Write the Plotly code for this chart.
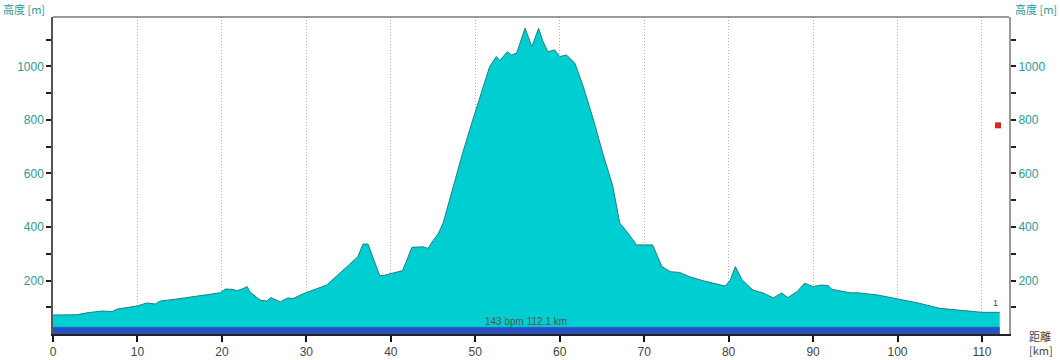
import plotly.graph_objects as go

# distance [km] and altitude [m]
km = [0, 2.8, 4.2, 5.9, 7.0, 7.6, 10.0, 11.1, 12.1, 12.7, 14.7, 16.6, 19.8, 20.4, 21.2, 21.8, 22.4, 23.0,
      23.3, 24.5, 25.3, 25.8, 26.9, 27.8, 28.4, 29.6, 30.8, 32.4, 34.3, 36.1, 36.7, 37.3, 38.7, 39.3, 41.4, 42.5,
      43.8, 44.4, 45.0, 45.6, 46.2, 47.4, 48.5, 49.7, 50.9, 51.7, 52.5, 52.9, 53.8, 54.3, 54.9, 55.4, 55.9, 56.7,
      57.5, 58.0, 58.6, 59.4, 60.0, 60.8, 61.8, 62.8, 64.0, 65.1, 66.3, 67.1, 68.1, 69.1, 69.9, 71.0, 72.1, 73.1,
      74.2, 75.4, 77.0, 78.2, 79.6, 80.2, 80.8, 81.6, 82.9, 84.1, 85.3, 86.3, 87.0, 88.1, 89.0, 90.0, 91.0, 91.8,
      92.2, 94.4, 95.3, 97.6, 99.9, 102.3, 105.0, 106.6, 108.2, 110.0, 112.1]
alt = [71, 72, 80, 86, 84, 93, 105, 116, 112, 123, 131, 139, 154, 168, 167, 162, 168, 177,
       158, 127, 123, 136, 120, 135, 132, 150, 164, 183, 237, 289, 336, 336, 217, 220, 237, 324,
       326, 320, 349, 374, 415, 551, 676, 800, 924, 999, 1037, 1022, 1055, 1043, 1050, 1099, 1143, 1074,
       1143, 1095, 1055, 1062, 1037, 1043, 1012, 924, 800, 676, 551, 415, 377, 333, 333, 333, 252, 233,
       230, 214, 199, 189, 179, 202, 252, 202, 164, 153, 135, 153, 136, 158, 190, 177, 183, 181,
       167, 154, 154, 146, 133, 117, 96, 92, 86, 81, 81]

total_km = 112.1
avg_hr = 143
band_label = f"{avg_hr} bpm {total_km} km"
marker_km = [111.9]
marker_alt = [780]
lap_label = "1"

x_ticks = list(range(0, 111, 10))
y_ticks = list(range(100, 1101, 100))
y_text = [str(v) if v % 200 == 0 else "" for v in y_ticks]

X_MAX = 113.2
Y_MAX = 1185
BAND = 25

teal = "#2a9a9a"
tick_font = "Liberation Sans"
fig = go.Figure()

fig.add_trace(go.Scatter(x=km, y=alt, mode="lines", fill="tozeroy",
                         fillcolor="#00CED0", line=dict(color="#1d7f88", width=1),
                         hoverinfo="skip", showlegend=False))
fig.add_trace(go.Scatter(x=[0, total_km], y=[BAND, BAND], mode="lines", fill="tozeroy",
                         fillcolor="#2a4fc0", line=dict(color="#2a4fc0", width=0.5),
                         hoverinfo="skip", showlegend=False))
fig.add_trace(go.Scatter(x=marker_km, y=marker_alt, mode="markers",
                         marker=dict(symbol="square", size=6, color="#e02424"),
                         hoverinfo="skip", showlegend=False))
# invisible trace to activate y2
fig.add_trace(go.Scatter(x=[0], y=[0], yaxis="y2", mode="markers", marker=dict(opacity=0),
                         hoverinfo="skip", showlegend=False))

fig.add_annotation(x=total_km / 2, y=BAND, text=band_label, showarrow=False, yanchor="bottom",
                   yshift=-2, font=dict(size=10, color="#555555", family=tick_font))
fig.add_annotation(x=km[-1], y=alt[-1], text=lap_label, showarrow=False, yanchor="bottom",
                   xanchor="right", yshift=2, font=dict(size=9, color="#444444", family=tick_font))

fig.update_layout(
    width=1060, height=360,
    margin=dict(l=53, r=51, t=17, b=26, pad=0, autoexpand=False),
    paper_bgcolor="white", plot_bgcolor="white",
    font=dict(family=tick_font, size=11),
    xaxis=dict(range=[0, X_MAX], tickvals=x_ticks, ticks="outside", ticklen=6, tickcolor="#111",
               tickwidth=2, showline=True, linecolor="#222", linewidth=1.5, automargin=False,
               showgrid=True, gridcolor="#b0b0b0", griddash="1px,2px", gridwidth=1,
               tickfont=dict(size=12, color="#444444"), zeroline=False),
    yaxis=dict(range=[0, Y_MAX], tickvals=y_ticks, ticktext=y_text, ticks="outside", ticklen=5,
               tickcolor="#222", tickwidth=1.5, showline=True, linecolor="#555", linewidth=1.5,
               automargin=False, showgrid=False, zeroline=False, tickfont=dict(size=12, color=teal)),
    yaxis2=dict(range=[0, Y_MAX], overlaying="y", side="right", tickvals=y_ticks, ticktext=y_text,
                ticks="outside", ticklen=5, tickcolor="#222", tickwidth=1.5, showline=True,
                linecolor="#999", linewidth=2, showgrid=False, zeroline=False, automargin=False,
                tickfont=dict(size=12, color=teal)),
)
fig.add_shape(type="line", xref="paper", yref="paper", x0=0, x1=1, y0=1, y1=1,
              line=dict(color="#777777", width=1.5))
fig.add_annotation(xref="paper", yref="paper", x=0, y=1, xshift=-52, yshift=8, xanchor="left",
                   yanchor="middle", text="高度 [m]", showarrow=False,
                   font=dict(size=11, color=teal, family="Noto Sans CJK JP"))
fig.add_annotation(xref="paper", yref="paper", x=1, y=1, xshift=50, yshift=8, xanchor="right",
                   yanchor="middle", text="高度 [m]", showarrow=False,
                   font=dict(size=11, color=teal, family="Noto Sans CJK JP"))
fig.add_annotation(xref="paper", yref="paper", x=1, y=0, xshift=18, yshift=-26, xanchor="left",
                   yanchor="bottom", text="距離<br>[km]", showarrow=False, align="left",
                   font=dict(size=11, color="#444444", family="Noto Sans CJK JP"))

fig.write_html("out.html", config={"displayModeBar": False},
               post_script="document.body.style.margin='0';document.body.style.padding='0';")
